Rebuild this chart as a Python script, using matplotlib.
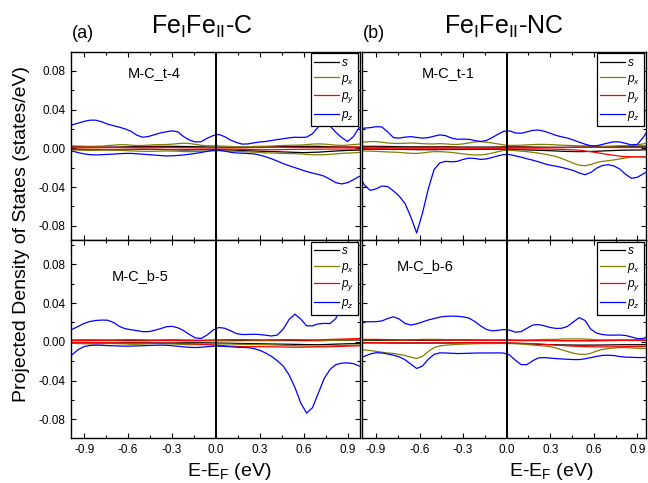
import numpy as np
import matplotlib as mpl
mpl.use('Agg')
import matplotlib.pyplot as plt
from matplotlib.ticker import MultipleLocator, FormatStrFormatter

mpl.rcParams['font.family'] = 'Liberation Sans'
mpl.rcParams['mathtext.fontset'] = 'custom'
mpl.rcParams['mathtext.rm'] = 'Liberation Sans'
mpl.rcParams['mathtext.it'] = 'Liberation Sans:italic'
mpl.rcParams['axes.unicode_minus'] = False

# energy grids (eV), PDOS values below are in 1e-3 states/eV
E_fine = np.linspace(-1.02, 0.98, 51)
E_coarse = np.linspace(-1.0, 1.0, 21)

# ---- (a) top : M-C_t-4
pz_up_a = [23, 24.3, 26, 27.8, 29, 29, 27.3, 25, 23.3, 21.8,
           20, 17.5, 13.5, 11.4, 12.2, 14, 15.8, 17, 18, 17,
           12, 8.5, 6.5, 6.8, 10.3, 13, 14.3, 12, 8.5, 6,
           4.3, 4.5, 5.6, 6.5, 7, 8, 9, 9.8, 10.8, 11.4,
           11.2, 11.5, 15, 22, 26.5, 23, 16.5, 11, 7, 12,
           21.5]
pz_dn_a = [-2.3, -3, -4.5, -5.8, -6.6, -6.9, -6.6, -6.3, -6, -5.6,
           -5.3, -5.3, -5.7, -6.1, -6.6, -7, -7.5, -7.9, -7.8, -7.4,
           -6.9, -6.2, -5.3, -4.3, -3.2, -2.1, -1.9, -2.9, -4.1, -4.8,
           -5.1, -5.4, -5.8, -7, -8.8, -10.8, -13.2, -15.8, -18, -20,
           -22, -24, -25.6, -27, -28.8, -32, -35.5, -36.8, -35.5, -32.5,
           -29]
px_up_a = [2.5, 2.5, 2.3, 2.1, 2, 2.1, 2.3, 2.8, 3.2, 3.7,
           3.7, 3.2, 2.9, 2.9, 3.2, 3.7, 3.8, 3.9, 4.2, 4.8,
           5.2, 4.9, 4, 3.1, 2.6, 2.5, 2.4, 2.1, 1.9, 1.6,
           1.5, 1.6, 1.9, 2, 2.1, 2.3, 2.6, 2.9, 3.1, 3.2,
           3.3, 3.8, 4.3, 4.5, 4.3, 3.8, 3.2, 3, 3.2, 3.8,
           4.3]
px_dn_a = [-1.4, -1.7, -1.9, -2.1, -2.2, -2.1, -1.9, -1.8, -1.9, -2.1,
           -2.4, -2.7, -2.9, -3.1, -3.2, -3.1, -2.9, -2.8, -2.9, -3.1,
           -3.4, -3.5, -3.4, -3.1, -2.9, -2.7, -2.5, -2.7, -2.9, -3.1,
           -3.4, -3.7, -4, -4.4, -4.7, -4.9, -5.1, -5.4, -5.5, -5.5,
           -5.8, -6.3, -6.7, -6.8, -6.7, -6.3, -5.8, -5.3, -4.9, -4.7,
           -4.3]
s_up_a = [1.5, 1.5, 1.2, 1.2, 1.5, 1.8, 2, 2, 1.8, 1.5, 1.2, 1, 1, 1.2, 1.5, 1.8, 2, 2, 1.5, 1.2, 1]
s_dn_a = [-1, -1.2, -1.5, -1.5, -1.2, -1, -1.2, -1.5, -1.8, -1.5, -1.2, -1.8, -2.5, -3, -3.5, -4, -4.5, -4, -3, -2.2, -1.8]
py_up_a = [1.2, 1, 1, 0.8, 0.8, 1, 1, 0.8, 0.6, 0.5, 0.5, 0.5, 0.6, 0.8, 1, 1, 0.8, 0.8, 1, 1.2, 1.2]
py_dn_a = [-0.8, -1, -1, -1.2, -1.2, -1, -1, -1.2, -1.2, -1, -1, -1, -1.2, -1.5, -1.5, -1.2, -1, -1, -0.8, -0.8, -0.8]

# ---- (b) top : M-C_t-1
pz_up_b = [20.5, 20.8, 21.3, 22.3, 22, 17, 11, 10.5, 11.5, 12,
           11.2, 10.5, 11, 12.5, 13.8, 13, 10.5, 9.3, 9.5, 9.2,
           8, 7, 8, 11, 14.5, 17.5, 18, 15.8, 15.5, 17,
           18.5, 18.8, 17.5, 15.5, 13.3, 11.8, 10.5, 8.5, 6.3, 4.2,
           2.6, 2.6, 4, 5.5, 6.7, 6.5, 5, 3.5, 4, 11,
           20]
pz_dn_b = [-27, -38, -43.5, -42, -39, -39.5, -44, -49.5, -57, -71,
           -87.5, -67, -42, -22, -15, -13.5, -14, -13.5, -11.5, -10.2,
           -10.5, -11.5, -11, -9.5, -7.8, -6.5, -6.5, -7.8, -9.2, -10.8,
           -12.3, -14, -16, -17.5, -18.5, -19.8, -21.3, -23, -25.5, -27.3,
           -25, -20.5, -17.8, -17, -18.3, -21.5, -27, -31, -30, -26.5,
           -23]
px_up_b = [6, 6.5, 6.9, 6.9, 6.2, 5.5, 5, 5, 5.2, 5.5,
           5.2, 4.8, 4.5, 4.5, 4.8, 4.5, 4, 4, 4.5, 5.5,
           6.5, 6.9, 6.2, 5.5, 4.5, 3.5, 3, 3, 3.2, 3.5,
           3.8, 4, 4, 3.8, 3.5, 3.2, 3, 2.8, 2.5, 2.5,
           2.5, 2.2, 2, 2, 2.2, 2.5, 2.5, 2.8, 3.5, 4.5,
           5.5]
px_dn_b = [-2.5, -2.8, -3, -3.2, -3.5, -3.8, -4, -4.3, -4.8, -5.2,
           -5.3, -4.8, -4, -3.5, -3.5, -3.8, -4.3, -5, -5.8, -6.5,
           -6.9, -6.9, -6.2, -5, -3.5, -2.2, -2, -2.5, -3, -3.5,
           -4.2, -5, -6, -7.2, -8.5, -10.5, -13, -15.5, -17.5, -18,
           -16.8, -14.8, -13.5, -12.8, -12, -11, -10, -9, -8.6, -8.8,
           -9]
s_up_b = [2, 2, 1.8, 1.5, 1.5, 1.5, 1.5, 1.2, 1.2, 1.2, 1.5, 1.5, 1.2, 1, 1, 1.2, 1.5, 1.8, 2, 2.2, 2.2]
s_dn_b = [-1, -1, -1.2, -1.2, -1.5, -1.5, -1.2, -1.2, -1.2, -1, -1, -1.5, -2, -2.5, -3.2, -3.5, -3.2, -2.5, -2, -1.8, -1.5]
py_up_b = [1, 1, 0.8, 0.8, 0.8, 1, 1, 0.8, 0.8, 0.8, 1, 1, 0.8, 0.8, 0.8, 1, 1, 0.8, 0.8, 0.8, 1]
py_dn_b = [-0.5, -0.5, -0.6, -0.6, -0.5, -0.5, -0.6, -0.6, -0.5, -0.5, -0.5, -0.6, -0.6, -0.8, -1.2, -2, -4, -6.5, -8.5, -9, -9]

# ---- (a) bottom : M-C_b-5
pz_up_c = [11.5, 13, 16, 19, 21, 22, 22.4, 22.3, 20, 16,
           13.5, 12.5, 11.5, 10.5, 10.5, 11.8, 13.5, 15.5, 16, 14.5,
           11.5, 7.5, 4, 3.5, 7, 12, 14.8, 14, 11.5, 8.5,
           7.5, 7.6, 7.8, 7.5, 6.8, 6, 7, 13, 23, 28.5,
           23.5, 16.5, 16.5, 18.5, 19, 18.8, 24, 38, 57, 80,
           115]
pz_dn_c = [-16, -13, -8, -4.8, -3.8, -3.4, -3.6, -3.9, -4.1, -4.3,
           -4.5, -4.4, -4.2, -4, -3.8, -3.6, -3.4, -3.6, -4, -4.6,
           -5.2, -5.7, -5.9, -5.6, -5, -4.6, -4.5, -4.7, -5.1, -5.5,
           -5.8, -6, -7, -8.8, -11.5, -15, -19.5, -25, -34, -47,
           -63, -73.5, -68, -53, -38, -28.5, -23.5, -22, -21.7, -22.5,
           -25]
px_up_c = [2, 2, 2.2, 2.3, 2.3, 2.2, 2, 1.8, 1.8, 2,
           2.2, 2.3, 2.2, 2, 1.8, 1.8, 2, 2.2, 2.3, 2.2,
           2, 1.8, 1.6, 1.5, 1.5, 1.5, 1.5, 1.6, 1.8, 2,
           2, 1.8, 1.6, 1.5, 1.5, 1.6, 1.8, 2, 2.2, 2.3,
           2.2, 2, 1.8, 1.6, 1.5, 1.5, 1.6, 1.8, 2, 2.2,
           2.5]
px_dn_c = [-1.5, -1.6, -1.8, -2, -2.2, -2.2, -2, -1.8, -1.8, -2,
           -2.2, -2.5, -2.5, -2.3, -2, -1.8, -1.8, -2, -2.2, -2.5,
           -2.8, -3, -3, -2.8, -2.5, -2.3, -2.2, -2.2, -2.3, -2.5,
           -2.6, -2.8, -2.8, -2.9, -3, -3.2, -3.4, -3.6, -3.8, -4,
           -4.2, -4.4, -4.5, -4.5, -4.4, -4.2, -4, -3.8, -3.6, -3.5,
           -3.5]
s_up_c = [1.2, 1.2, 1.3, 1.3, 1.2, 1.2, 1.3, 1.3, 1.2, 1.2, 1.2, 1.2, 1.3, 1.3, 1.4, 1.4, 1.2, 1.2, 1.5, 1.8, 2]
s_dn_c = [-0.8, -1, -1.2, -1.2, -1, -1, -1.2, -1.2, -1, -1, -1.2, -1.5, -1.8, -2, -2.3, -2.5, -2.8, -3, -2.5, -2, -1.8]
py_up_c = [1.5, 1.5, 1.5, 1.8, 1.8, 1.8, 1.5, 1.5, 1.5, 1.5, 2, 2.2, 2.2, 2, 2, 2, 1.8, 2, 2.5, 3, 3.5]
py_dn_c = [-1, -1, -1, -1.2, -1.2, -1.2, -1.5, -1.5, -1.8, -2.5, -3.5, -4.5, -5, -5, -5.2, -5.5, -5.5, -5.2, -5, -4.5, -4]

# ---- (b) bottom : M-C_b-6
pz_up_d = [20.7, 20.7, 20.7, 20.8, 21.5, 24, 25.8, 23.5, 19, 17.3,
           18.5, 20.5, 22.5, 24, 25.5, 26.3, 26.5, 26.3, 25.7, 24.5,
           21, 16.5, 12.8, 11.3, 11.8, 12.7, 12, 10, 10.5, 14,
           17.3, 17.8, 16.5, 14.8, 13.8, 14, 16, 20.5, 25, 22,
           13, 9, 7.5, 6.9, 6.9, 7, 6.5, 5, 3.3, 3.5,
           6]
pz_dn_d = [-17, -15, -12.5, -11.3, -11.5, -12.5, -13.8, -15.5, -18.5, -23,
           -27.5, -25, -18, -13, -11.4, -11.5, -11.8, -12.1, -12, -11.8,
           -11.6, -11.5, -11.5, -11.5, -11.4, -11.6, -13.5, -19, -23.5, -23.5,
           -19.5, -16.5, -16.3, -16.8, -17.3, -17.7, -18, -18.3, -18.3, -17.5,
           -16.3, -15, -14, -13.8, -14.2, -15.2, -15.8, -16, -16.2, -16.2,
           -16.2]
px_up_d = [2, 2, 2, 2.2, 2.2, 2, 2, 1.8, 1.8, 2,
           2.2, 2.5, 2.5, 2.5, 2.5, 2.3, 2.2, 2, 2, 2,
           2, 2, 2, 2, 2, 2.2, 2.2, 2, 1.8, 1.8,
           2, 2.2, 2.5, 2.5, 2.5, 2.8, 3, 3, 3, 2.8,
           2.5, 2.2, 2, 2, 2, 2, 2, 2, 2.2, 2.5,
           2.8]
px_dn_d = [-7.8, -8.3, -9, -9.8, -10.7, -11.5, -12, -13, -14.2, -15.8,
           -17.2, -15, -10, -6, -4.2, -3.5, -3, -2.6, -2.4, -2.2,
           -2, -1.9, -1.8, -1.8, -1.7, -1.7, -1.8, -2, -2.3, -2.8,
           -3.3, -3.8, -4.3, -5, -6.5, -8.3, -10, -11.8, -12.8, -13,
           -11.8, -9.5, -7.8, -7, -6.3, -5.9, -6, -6.3, -6.7, -6.9,
           -7]
s_up_d = [1.5, 1.5, 1.5, 1.5, 1.5, 1.5, 1.8, 1.8, 1.8, 1.5, 1.5, 1.5, 1.5, 1.5, 1.2, 1.2, 1.2, 1.5, 1.5, 1.5, 1.5]
s_dn_d = [-1, -1, -1.2, -1.2, -1.2, -1.2, -1.2, -1, -1, -1, -1.2, -1.8, -2.5, -3, -3.2, -3.4, -3.4, -3.2, -3, -3, -3]
py_up_d = [2.5, 2.5, 2.2, 2, 2, 1.8, 1.8, 1.8, 1.5, 1.5, 1.5, 1.2, 1.2, 1.2, 1.2, 1.2, 1.2, 1.2, 1.5, 1.5, 1.5]
py_dn_d = [-1, -1, -1, -1.2, -1.2, -1.2, -1.2, -1, -1, -1, -1.2, -1.5, -2, -3, -4, -4.8, -5.2, -5.2, -5, -4.8, -4.5]

orbitals = ['$s$', '$p_x$', '$p_y$', '$p_z$']
colors = ['black', '#808000', 'red', 'blue']
tags = ['M-C_t-4', 'M-C_t-1', 'M-C_b-5', 'M-C_b-6']


def draw(ax, s_up, s_dn, px_up, px_dn, py_up, py_dn, pz_up, pz_dn):
    grids = [E_coarse, E_fine, E_coarse, E_fine]
    ups = [s_up, px_up, py_up, pz_up]
    dns = [s_dn, px_dn, py_dn, pz_dn]
    for E, up, dn, c, lab in zip(grids, ups, dns, colors, orbitals):
        ax.plot(E, np.array(up) * 1e-3, color=c, lw=0.9, label=lab)
        ax.plot(E, np.array(dn) * 1e-3, color=c, lw=0.9)
    ax.axvline(0, color='black', lw=1.4, zorder=5)
    leg = ax.legend(loc='upper right', fontsize=8.5, frameon=True, fancybox=False,
                    framealpha=1, edgecolor='black', borderpad=0.3,
                    labelspacing=0.3, handlelength=2.1, handletextpad=0.2,
                    borderaxespad=0.15)
    leg.get_frame().set_linewidth(0.9)
    leg.set_zorder(6)
    ax.xaxis.set_major_locator(MultipleLocator(0.3))
    ax.xaxis.set_minor_locator(MultipleLocator(0.15))
    ax.yaxis.set_major_locator(MultipleLocator(0.04))
    ax.yaxis.set_minor_locator(MultipleLocator(0.02))
    ax.xaxis.set_major_formatter(FormatStrFormatter('%.1f'))
    ax.yaxis.set_major_formatter(FormatStrFormatter('%.2f'))
    ax.tick_params(which='both', direction='in', top=True, right=True,
                   labelsize=8.5, width=0.8)
    ax.tick_params(which='major', length=3.6, pad=4)
    ax.tick_params(which='minor', length=2)
    for sp in ax.spines.values():
        sp.set_linewidth(1.0)


fig = plt.figure(figsize=(6.48, 4.83), dpi=100)
xl, wl = 71 / 648, 289 / 648
xr, wr = 361.5 / 648, 284.5 / 648
yt, ht = 1 - 240 / 483, 188.3 / 483
yb, hb = 1 - 438.3 / 483, 198.3 / 483

ax_a = fig.add_axes([xl, yt, wl, ht])
ax_b = fig.add_axes([xr, yt, wr, ht])
ax_c = fig.add_axes([xl, yb, wl, hb])
ax_d = fig.add_axes([xr, yb, wr, hb])

draw(ax_a, s_up_a, s_dn_a, px_up_a, px_dn_a, py_up_a, py_dn_a, pz_up_a, pz_dn_a)
draw(ax_b, s_up_b, s_dn_b, px_up_b, px_dn_b, py_up_b, py_dn_b, pz_up_b, pz_dn_b)
draw(ax_c, s_up_c, s_dn_c, px_up_c, px_dn_c, py_up_c, py_dn_c, pz_up_c, pz_dn_c)
draw(ax_d, s_up_d, s_dn_d, px_up_d, px_dn_d, py_up_d, py_dn_d, pz_up_d, pz_dn_d)

for ax in (ax_a, ax_c):
    ax.set_xlim(-0.99, 0.985)
for ax in (ax_b, ax_d):
    ax.set_xlim(-1.0, 0.96)
    ax.tick_params(labelleft=False)
for ax in (ax_a, ax_b):
    ax.set_ylim(-0.0947, 0.0997)
    ax.tick_params(labelbottom=False)
for ax in (ax_c, ax_d):
    ax.set_ylim(-0.0995, 0.105)

# panel tags
ax_a.text(0.198, 0.866, tags[0], transform=ax_a.transAxes, fontsize=10.5)
ax_b.text(0.212, 0.866, tags[1], transform=ax_b.transAxes, fontsize=10.5)
ax_c.text(0.142, 0.798, tags[2], transform=ax_c.transAxes, fontsize=10.5)
ax_d.text(0.124, 0.849, tags[3], transform=ax_d.transAxes, fontsize=10.5)

# titles and labels
fig.text(202 / 648, 1 - 33.5 / 483, r'Fe$_{\rm I}$Fe$_{\rm II}$-C', fontsize=18,
         ha='center', va='baseline')
fig.text(504 / 648, 1 - 33.5 / 483, r'Fe$_{\rm I}$Fe$_{\rm II}$-NC', fontsize=18,
         ha='center', va='baseline')
fig.text(72 / 648, 1 - 38 / 483, '(a)', fontsize=13, va='baseline')
fig.text(363 / 648, 1 - 38 / 483, '(b)', fontsize=13, va='baseline')
fig.text(229 / 648, 1 - 476 / 483, r'E-E$_{\rm F}$ (eV)', fontsize=14,
         ha='center', va='baseline')
fig.text(551 / 648, 1 - 476 / 483, r'E-E$_{\rm F}$ (eV)', fontsize=14,
         ha='center', va='baseline')
fig.text(21.7 / 648, 1 - 233.5 / 483, 'Projected Density of States (states/eV)',
         fontsize=14, rotation=90, ha='center', va='center')

plt.savefig('out.png', dpi=100)
